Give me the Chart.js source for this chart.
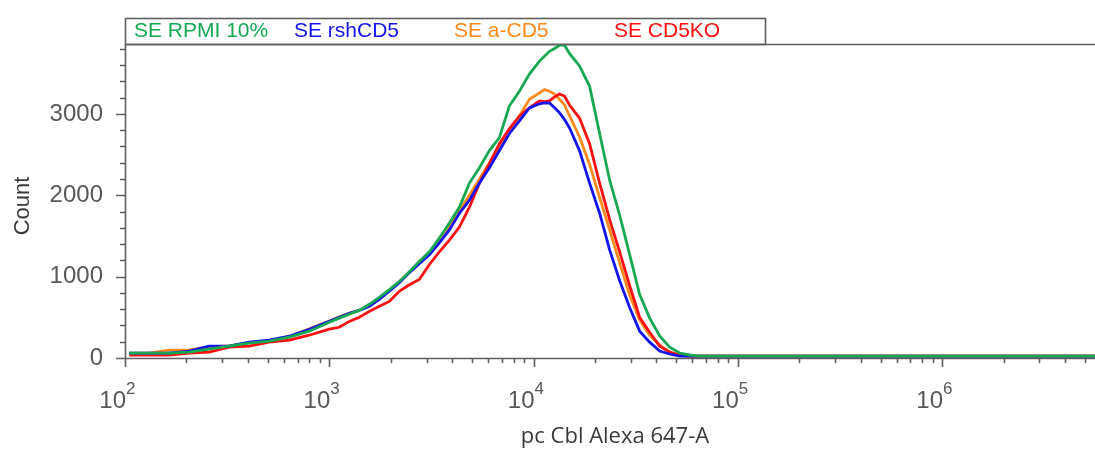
<!DOCTYPE html>
<html>
<head>
<meta charset="utf-8">
<title>pc Cbl Alexa 647-A</title>
<script src="https://cdn.jsdelivr.net/npm/chart.js@4.4.0/dist/chart.umd.min.js"></script>
<style>
  html, body { margin: 0; padding: 0; background: #ffffff; }
  #wrap { width: 1095px; height: 449px; position: relative; }
</style>
</head>
<body>
<div id="wrap"><canvas id="chart"></canvas></div>
<script>
// histogram bins (channel values, log scale)
const channel = [105, 131, 164, 206, 258, 323, 405, 508, 637, 798,
  1000, 1120, 1253, 1403, 1571, 1758, 1968, 2203, 2467, 2760,
  3092, 3459, 3875, 4338, 4856, 5436, 6084, 6810, 7622, 8532,
  9550, 10690, 11320, 11970, 12680, 13400, 14190, 15000, 16790, 18820,
  21070, 23590, 26410, 29560, 33090, 37040, 41460, 46410, 51960, 58170,
  65110, 201000, 622000, 1920000, 5610000];

// counts per sample
const rpmi10 = [61, 61, 61, 73, 110, 146, 183, 207, 256, 330,
  440, 490, 537, 585, 660, 745, 840, 940, 1060, 1185,
  1305, 1475, 1660, 1855, 2150, 2340, 2550, 2710, 3100, 3280,
  3490, 3650, 3710, 3770, 3805, 3845, 3845, 3745, 3590, 3340,
  2760, 2185, 1755, 1270, 780, 490, 270, 134, 61, 37,
  24, 22, 22, 22, 22];
const rshCD5 = [61, 61, 61, 85, 146, 146, 195, 220, 268, 354,
  450, 500, 550, 585, 635, 720, 820, 925, 1050, 1160,
  1270, 1415, 1575, 1780, 1940, 2150, 2340, 2550, 2760, 2915,
  3075, 3125, 3135, 3135, 3075, 3015, 2930, 2830, 2550, 2150,
  1780, 1330, 950, 620, 330, 195, 85, 49, 24, 22,
  22, 22, 22, 22, 22];
const aCD5 = [61, 61, 98, 100, 135, 150, 190, 215, 262, 360,
  455, 505, 550, 590, 640, 725, 830, 935, 1055, 1170,
  1285, 1440, 1610, 1810, 2000, 2200, 2400, 2610, 2780, 2975,
  3180, 3260, 3300, 3280, 3245, 3180, 3110, 2980, 2720, 2380,
  1975, 1575, 1170, 775, 470, 280, 160, 70, 30, 24,
  22, 22, 22, 22, 22];
const cd5KO = [37, 37, 37, 61, 73, 134, 146, 195, 220, 280,
  354, 378, 450, 500, 573, 635, 695, 820, 900, 965,
  1150, 1305, 1450, 1610, 1855, 2150, 2390, 2635, 2820, 2975,
  3075, 3160, 3150, 3160, 3210, 3245, 3220, 3110, 2950, 2635,
  2150, 1700, 1305, 890, 500, 317, 146, 73, 37, 24,
  22, 22, 22, 22, 22];

const seriesNames = ['SE RPMI 10%', 'SE rshCD5', 'SE a-CD5', 'SE CD5KO'];
const seriesData = [rpmi10, rshCD5, aCD5, cd5KO];
const seriesColors = ['#17a852', '#1414f0', '#ff8a1c', '#ff0f0f'];
const drawOrder = [1, 2, 4, 3]; // lower = on top

const yLabels = [0, 1000, 2000, 3000];
const xDecades = [2, 3, 4, 5, 6];
const xTitle = 'pc Cbl Alexa 647-A';
const yTitle = 'Count';

const axisColor = '#5f5f5f';

const datasets = seriesNames.map((name, i) => ({
  label: name,
  data: channel.map((x, j) => ({ x: x, y: seriesData[i][j] })),
  borderColor: seriesColors[i],
  backgroundColor: seriesColors[i],
  borderWidth: 2.8,
  pointRadius: 0,
  tension: 0,
  fill: false,
  order: drawOrder[i]
}));

// axes, ticks, titles and the boxed legend
const flowAxes = {
  id: 'flowAxes',
  beforeDatasetsDraw(chart) {
    const ctx = chart.ctx;
    const a = chart.chartArea;
    const xs = chart.scales.x, ys = chart.scales.y;
    ctx.save();
    ctx.strokeStyle = axisColor;
    ctx.lineWidth = 1.6;
    ctx.beginPath();
    // top frame line
    ctx.moveTo(a.left, a.top + 0.5);
    ctx.lineTo(a.right, a.top + 0.5);
    // y axis
    ctx.moveTo(a.left + 0.5, a.top);
    ctx.lineTo(a.left + 0.5, a.bottom);
    // x axis
    ctx.moveTo(a.left, a.bottom + 0.5);
    ctx.lineTo(a.right, a.bottom + 0.5);
    // y ticks every 200
    for (let v = 0; v <= ys.max; v += 200) {
      const y = Math.round(ys.getPixelForValue(v)) + 0.5;
      const len = v % 1000 === 0 ? 9 : 5;
      ctx.moveTo(a.left - len, y);
      ctx.lineTo(a.left, y);
    }
    // x ticks, log decades
    xDecades.forEach(d => {
      for (let k = 1; k <= 9; k++) {
        const v = k * Math.pow(10, d);
        if (v < xs.min || v > xs.max) continue;
        const x = Math.round(xs.getPixelForValue(v)) + 0.5;
        const len = k === 1 ? 9 : 5;
        ctx.moveTo(x, a.bottom);
        ctx.lineTo(x, a.bottom + len);
      }
    });
    ctx.stroke();
    ctx.restore();
  },
  afterDraw(chart) {
    const ctx = chart.ctx;
    const a = chart.chartArea;
    const xs = chart.scales.x;
    ctx.save();
    // decade labels 10^n
    ctx.fillStyle = '#585858';
    ctx.textBaseline = 'alphabetic';
    xDecades.forEach(d => {
      const x = xs.getPixelForValue(Math.pow(10, d));
      ctx.font = '24px "Liberation Sans", Arial, sans-serif';
      ctx.textAlign = 'right';
      ctx.fillText('10', x + 1, a.bottom + 50);
      ctx.font = '17px "Liberation Sans", Arial, sans-serif';
      ctx.textAlign = 'left';
      ctx.fillText(String(d), x + 1, a.bottom + 36);
    });
    // axis titles
    ctx.fillStyle = '#3a3a3a';
    ctx.font = '22px "Open Sans", sans-serif';
    ctx.textAlign = 'center';
    ctx.textBaseline = 'middle';
    ctx.fillText(xTitle, 615, 437);
    ctx.save();
    ctx.translate(23, 206);
    ctx.rotate(-Math.PI / 2);
    ctx.font = '22px "Liberation Sans", Arial, sans-serif';
    ctx.fillText(yTitle, 0, 0);
    ctx.restore();
    // legend box
    ctx.strokeStyle = axisColor;
    ctx.lineWidth = 1.6;
    ctx.strokeRect(a.left + 0.5, 18.5, 640, a.top - 18);
    ctx.font = '21px "Liberation Sans", Arial, sans-serif';
    ctx.textAlign = 'left';
    ctx.textBaseline = 'alphabetic';
    chart.data.datasets.forEach((ds, i) => {
      ctx.fillStyle = ds.borderColor;
      ctx.fillText(ds.label, a.left + 9 + i * 160, 37);
    });
    ctx.restore();
  }
};

new Chart(document.getElementById('chart'), {
  type: 'line',
  data: { datasets: datasets },
  options: {
    responsive: true,
    maintainAspectRatio: false,
    animation: false,
    layout: { padding: { top: 44, right: 0, bottom: 0, left: 0 } },
    plugins: {
      legend: { display: false },
      tooltip: { enabled: false },
      title: { display: false }
    },
    scales: {
      x: {
        type: 'logarithmic',
        min: 100,
        max: 5610000,
        grid: { display: false },
        border: { display: false },
        ticks: { display: false },
        afterFit(scale) { scale.height = 91; }
      },
      y: {
        type: 'linear',
        min: 0,
        max: 3860,
        grid: { display: false, drawTicks: false },
        border: { display: false },
        afterBuildTicks(scale) {
          scale.ticks = yLabels.map(v => ({ value: v }));
        },
        ticks: {
          autoSkip: false,
          padding: 22,
          color: '#585858',
          font: { family: '"Liberation Sans", Arial, sans-serif', size: 24 },
          callback: v => String(v)
        },
        afterFit(scale) { scale.width = 125; }
      }
    }
  },
  plugins: [flowAxes]
});
</script>
</body>
</html>
